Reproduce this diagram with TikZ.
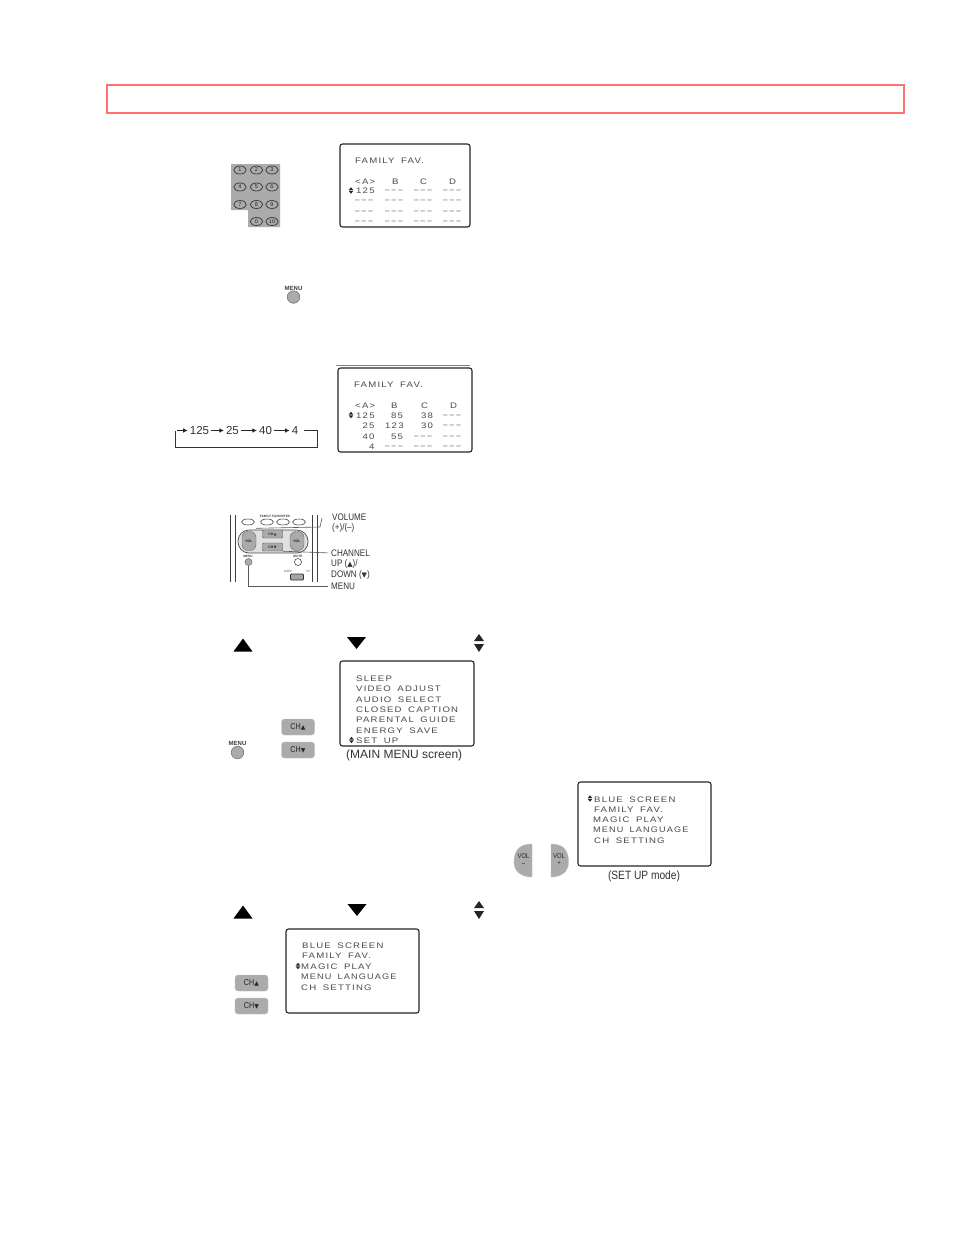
\documentclass[tikz,border=0pt]{standalone}
\usepackage{fontspec}
\setmainfont{Liberation Sans}
\newfontfamily\scrfont[LetterSpace=15,FakeStretch=1.2,WordSpace=1.7]{Liberation Sans}
\newfontfamily\dashfont[LetterSpace=26]{Liberation Sans}
\newfontfamily\condfont[FakeStretch=.85]{Liberation Sans}
\newfontfamily\symfont{DejaVu Sans}
\usetikzlibrary{arrows.meta,shapes.geometric}
\definecolor{inkgray}{HTML}{4A4A4A}
\definecolor{btn}{HTML}{ABABAB}
\definecolor{redframe}{HTML}{FF7070}
\newcommand{\dsh}{{\dashfont\color{black!65}–––}}
\tikzset{
  x=1pt,y=-1pt,
  scrbox/.style={draw=black!85,line width=1.1pt,rounded corners=2.5pt,fill=white},
  scrtxt/.style={anchor=west,inner sep=0pt,yshift=-.7pt,text=inkgray,font=\fontsize{8}{8}\selectfont\scrfont},
  narrowed/.style={transform shape,xscale=.95},
  seqnum/.style={anchor=center,inner sep=0pt,text=black!80,font=\fontsize{11.5}{11.5}\selectfont},
  rlabel/.style={anchor=west,inner sep=0pt,text=black!80,font=\fontsize{9.5}{9.5}\selectfont\condfont},
  tinylab/.style={anchor=center,inner sep=0pt,text=black!75,font=\fontsize{6}{6}\selectfont\bfseries},
  microlab/.style={anchor=center,inner sep=0pt,text=black!75,font=\fontsize{3.2}{3.2}\selectfont\bfseries},
  keybtn/.style={draw=black!75,line width=.8pt,ellipse,minimum width=12.5pt,minimum height=8pt,inner sep=0pt,font=\fontsize{5.5}{5.5}\selectfont,text=black!85},
  roundbtn/.style={circle,draw=black!55,fill=btn,line width=.6pt,minimum size=12.5pt,inner sep=0pt},
  chbtn/.style={rounded corners=3pt,fill=btn,draw=black!25,line width=.4pt,minimum width=33pt,minimum height=16pt,inner sep=0pt,font=\fontsize{8.5}{8.5}\selectfont\condfont,text=black!85},
  volsmall/.style={chbtn,minimum width=14pt,minimum height=19pt,draw=black!60,rounded corners=6pt,font=\fontsize{3.5}{3.5}\selectfont\bfseries},
  chsmall/.style={chbtn,minimum width=20pt,minimum height=8pt,rounded corners=1pt,draw=black!70,font=\fontsize{3.5}{3.5}\selectfont\bfseries},
  lead/.style={draw=black!65,line width=.6pt},
  flow/.style={draw=black!85,line width=.7pt,-{Latex[length=4.5pt,width=4.5pt]},shorten <=1.5pt,shorten >=2pt},
  voltxt/.style={inner sep=0pt,align=center,text=black!85,font=\fontsize{7}{7}\selectfont\condfont},
}
\newcommand{\upd}[3]{%
  \fill[black!85] (#1-#3,#2-.4) -- (#1,#2-#3*1.4) -- (#1+#3,#2-.4) -- cycle;
  \fill[black!85] (#1-#3,#2+.4) -- (#1,#2+#3*1.4) -- (#1+#3,#2+.4) -- cycle;}
\newcommand{\tup}[2]{\fill[black] (#1-9.5,#2+6.5) -- (#1,#2-6.5) -- (#1+9.5,#2+6.5) -- cycle;}
\newcommand{\tdn}[2]{\fill[black] (#1-9.5,#2-6) -- (#1,#2+6) -- (#1+9.5,#2-6) -- cycle;}
\newcommand{\tud}[2]{\fill[black!85] (#1-5,#2-2) -- (#1,#2-9) -- (#1+5,#2-2) -- cycle;
  \fill[black!85] (#1-5,#2+1) -- (#1,#2+9) -- (#1+5,#2+1) -- cycle;}
\begin{document}
\begin{tikzpicture}
\useasboundingbox (0,0) rectangle (954,1235);
\fill[white] (0,0) rectangle (954,1235);
\draw[redframe,line width=1.05pt] (107,85) rectangle (904,113);

% keypad
\fill[btn] (231,164) -- (280,164) -- (280,227) -- (248,227) -- (248,210) -- (231,210) -- cycle;
\node[keybtn] (k1) at (240,170) {1};
\node[keybtn] (k2) at (256.5,170) {2};
\node[keybtn] (k3) at (272,170) {3};
\node[keybtn] (k4) at (240,187) {4};
\node[keybtn] (k5) at (256.5,187) {5};
\node[keybtn] (k6) at (272,187) {6};
\node[keybtn] (k7) at (240,204.5) {7};
\node[keybtn] (k8) at (256.5,204.5) {8};
\node[keybtn] (k9) at (272,204.5) {9};
\node[keybtn] (k0) at (256.5,221.5) {0};
\node[keybtn] (k10) at (272,221.5) {10};

% screen 1
\draw[scrbox] (340,144) rectangle (470,227);
\node[scrtxt] (a1) at (355,160) {FAMILY FAV.};
\node[scrtxt] (a2) at (355,181) {<A>};
\node[scrtxt] (a3) at (392,181) {B};
\node[scrtxt] (a4) at (420,181) {C};
\node[scrtxt] (a5) at (449,181) {D};
\upd{351}{190.5}{2.3}
\node[scrtxt] (a6) at (356,190.5) {125};
\foreach \x/\n in {385/b,414/c,443/d} \node[scrtxt] (a1\n) at (\x,191) {\dsh};
\foreach \y/\r in {201/p,211.5/q,221.5/r} \foreach \x/\n in {355/a,385/b,414/c,443/d}
  \node[scrtxt] (a\r\n) at (\x,\y) {\dsh};

% menu button
\node[tinylab] (m1) at (293.5,288) {MENU};
\node[roundbtn] (m1b) at (293.5,297) {};

% loop
\node[seqnum] (n125) at (199.5,430.5) {125};
\node[seqnum] (n25) at (232.5,430.5) {25};
\node[seqnum] (n40) at (265.5,430.5) {40};
\node[seqnum] (n4) at (295,430.5) {4};
\coordinate (ls) at (175.5,430.5);
\coordinate (lb1) at (175.5,447.5);
\coordinate (lb2) at (317.5,447.5);
\coordinate (le) at (317.5,430.5);
\draw[flow] (ls) -- (n125.west);
\draw[flow] (n125.east) -- (n25.west);
\draw[flow] (n25.east) -- (n40.west);
\draw[flow] (n40.east) -- (n4.west);
\draw[draw=black!80,line width=.7pt] (n4.east) ++(6,0) -- (le) -- (lb2) -- (lb1) -- (ls);

% screen 2
\draw[black!50,line width=.7pt] (336,365.5) -- (470,365.5);
\draw[scrbox] (338,368) rectangle (472,452);
\node[scrtxt] (b1) at (354,384) {FAMILY FAV.};
\node[scrtxt] (b2) at (355,405) {<A>};
\node[scrtxt] (b3) at (391,405) {B};
\node[scrtxt] (b4) at (421,405) {C};
\node[scrtxt] (b5) at (450,405) {D};
\upd{351}{415}{2.3}
\node[scrtxt] (b6) at (356,415) {125};
\node[scrtxt] (b7) at (391,415) {85};
\node[scrtxt] (b8) at (421,415) {38};
\node[scrtxt] (b9) at (443,415.5) {\dsh};
\node[scrtxt] (c6) at (362.5,425.5) {25};
\node[scrtxt] (c7) at (385,425.5) {123};
\node[scrtxt] (c8) at (421,425.5) {30};
\node[scrtxt] (c9) at (443,426) {\dsh};
\node[scrtxt] (d6) at (362.5,436) {40};
\node[scrtxt] (d7) at (391,436) {55};
\node[scrtxt] (d8) at (414,436.5) {\dsh};
\node[scrtxt] (d9) at (443,436.5) {\dsh};
\node[scrtxt] (e6) at (369,446) {4};
\node[scrtxt] (e7) at (385,446.5) {\dsh};
\node[scrtxt] (e8) at (414,446.5) {\dsh};
\node[scrtxt] (e9) at (443,446.5) {\dsh};

% remote
\draw[black!75,line width=1pt] (230,515) -- (230,582) (235,515) -- (235,582) (312,515) -- (312,582) (317,515) -- (317,582);
\foreach \x/\n in {248/o1,267/o2,283/o3,299/o4} \node[draw=black!70,line width=.6pt,ellipse,minimum width=13pt,minimum height=6pt,inner sep=0pt] (\n) at (\x,522) {};
\node[microlab] (ff) at (275,516) {FAMILY FAVORITES};
\draw[draw=black!70,line width=.7pt,fill=black!12,rounded corners=11pt] (238,530) rectangle (308,553);
\node[volsmall] (v1) at (249,541) {VOL};
\node[volsmall] (v2) at (297,541) {VOL};
\node[chsmall] (c1) at (272.5,534) {CH\,{\symfont▲}};
\node[chsmall] (c2) at (272.5,547) {CH\,{\symfont▼}};
\node[microlab] (rm) at (248,556) {MENU};
\node[roundbtn,minimum size=7pt] (rmb) at (248.5,562) {};
\node[microlab] (rmu) at (298,556) {MUTE};
\node[circle,draw=black!70,line width=.6pt,minimum size=7pt,inner sep=0pt] (rmub) at (298,562) {};
\node[draw=black!80,line width=.9pt,rounded corners=1pt,minimum width=13pt,minimum height=6pt,inner sep=0pt,fill=black!35] (sw) at (297,577) {};
\node[microlab,font=\fontsize{3}{3}\selectfont] (sw1) at (288,571) {CATV};
\node[microlab,font=\fontsize{3}{3}\selectfont] (sw2) at (308,571) {TV};
\node[rlabel] (l1) at (332,517.5) {VOLUME};
\node[rlabel] (l2) at (332,528) {(+)/(–)};
\node[rlabel] (l3) at (331,553) {CHANNEL};
\node[rlabel] (l4) at (331,564) {UP ({\symfont\fontsize{7}{7}\selectfont▲})/};
\node[rlabel] (l5) at (331,575.5) {DOWN ({\symfont\fontsize{7}{7}\selectfont▼})};
\node[rlabel] (l6) at (331,586) {MENU};
\coordinate (lv) at (320,527);
\coordinate (lvt) at (322,518);
\draw[lead] (v1.north east) ++(0,-3) -- (lv) -- (lvt);
\draw[lead,shorten >=3pt] (c2.south east) -- (l3.west);
\draw[lead,shorten >=3pt] (rmb.south) |- (l6.west);

% triangles row 1
\tup{243}{645} \tdn{356.5}{643} \tud{479}{643}

% screen 3
\draw[scrbox] (340,661) rectangle (474,746);
\node[scrtxt] (s1) at (356,678) {SLEEP};
\node[scrtxt] (s2) at (356,688.5) {VIDEO ADJUST};
\node[scrtxt] (s3) at (356,699) {AUDIO SELECT};
\node[scrtxt] (s4) at (356,709) {CLOSED CAPTION};
\node[scrtxt] (s5) at (356,719.5) {PARENTAL GUIDE};
\node[scrtxt] (s6) at (356,730) {ENERGY SAVE};
\node[scrtxt] (s7) at (356,740.5) {SET UP};
\upd{351.5}{740}{2.3}
\node[anchor=west,inner sep=0pt,text=black!80,font=\fontsize{12}{12}\selectfont] (s8) at (346,755) {(MAIN MENU screen)};
\node[chbtn] (ch1) at (298,727) {CH{\symfont\fontsize{6}{6}\selectfont▲}};
\node[chbtn] (ch2) at (298,750) {CH{\symfont\fontsize{6}{6}\selectfont▼}};
\node[tinylab] (m2) at (237.5,743) {MENU};
\node[roundbtn] (m2b) at (237.5,752.5) {};

% screen 4
\draw[scrbox] (578,782) rectangle (711,866);
\upd{590}{798.5}{2.3}
\node[scrtxt] (t1) at (594,799) {BLUE SCREEN};
\node[scrtxt] (t2) at (594,809) {FAMILY FAV.};
\node[scrtxt] (t3) at (593,819) {MAGIC PLAY};
\node[scrtxt,narrowed] (t4) at (593,829.5) {MENU LANGUAGE};
\node[scrtxt] (t5) at (594,840) {CH SETTING};
\node[anchor=center,inner sep=0pt,text=black!80,font=\fontsize{12}{12}\selectfont\condfont] (t6) at (644,876) {(SET UP mode)};
\fill[btn,draw=black!25,line width=.4pt] (532,844) .. controls (518,844) and (514,852) .. (514,862) .. controls (514,872) and (522,877) .. (532,877) -- cycle;
\node[voltxt] (v3) at (523.5,860) {VOL\\–};
\fill[btn,draw=black!25,line width=.4pt] (551,844) .. controls (565,844) and (568.5,852) .. (568.5,862) .. controls (568.5,872) and (561,877) .. (551,877) -- cycle;
\node[voltxt] (v4) at (559,860) {VOL\\+};

% triangles row 2
\tup{243}{912} \tdn{357}{910} \tud{479}{910}

% screen 5
\draw[scrbox] (286,929) rectangle (419,1013);
\node[scrtxt] (u1) at (302,945.5) {BLUE SCREEN};
\node[scrtxt] (u2) at (302,955.5) {FAMILY FAV.};
\upd{298}{966}{2.3}
\node[scrtxt] (u3) at (301,966.5) {MAGIC PLAY};
\node[scrtxt,narrowed] (u4) at (301,976.5) {MENU LANGUAGE};
\node[scrtxt] (u5) at (301,987) {CH SETTING};
\node[chbtn] (ch3) at (251.5,983) {CH{\symfont\fontsize{6}{6}\selectfont▲}};
\node[chbtn] (ch4) at (251.5,1006) {CH{\symfont\fontsize{6}{6}\selectfont▼}};
\end{tikzpicture}
\end{document}
